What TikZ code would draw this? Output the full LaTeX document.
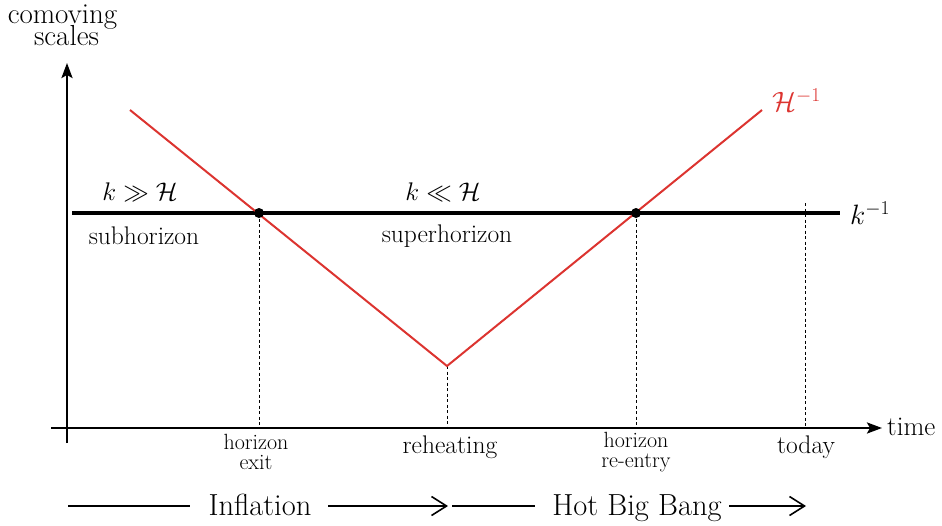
\RequirePackage{fix-cm}
\documentclass[tikz,border=0pt]{standalone}
\usepackage{amssymb}
\usepackage{fontspec}
\usetikzlibrary{arrows.meta}
\definecolor{myred}{RGB}{220,52,48}
\begin{document}
\begin{tikzpicture}[x=1pt,y=-1pt,
  axis/.style={line width=2.4pt,-{Stealth[length=15pt,width=11pt,inset=3pt]}},
  guide/.style={line width=0.9pt,dash pattern=on 3pt off 2.5pt},
  lbl/.style={font=\fontsize{25.5}{27}\selectfont,inner sep=0pt},
  toplbl/.style={font=\fontsize{29}{30}\selectfont,inner sep=0pt,anchor=base},
  mathlbl/.style={font=\fontsize{28}{30}\selectfont,inner sep=0pt},
  smalllbl/.style={font=\fontsize{22}{20}\selectfont,inner sep=0pt,align=center},
  biglbl/.style={font=\fontsize{30.5}{32}\selectfont,inner sep=0pt},
  era/.style={line width=1.6pt},
  eraarrow/.style={line width=1.6pt,-{Straight Barb[length=15pt,width=19pt,line width=1.6pt]}},
  dot/.style={circle,fill=black,inner sep=0pt,minimum size=10pt}]
\useasboundingbox (0,0) rectangle (942,525);
% coordinates
\coordinate (yb) at (67,443);
\coordinate (yt) at (67,63);
\coordinate (xl) at (51,428);
\coordinate (xr) at (882,428);
\coordinate (kl) at (72,213);
\coordinate (kr) at (840,213);
\coordinate (rs) at (130,110);
\coordinate (rm) at (447,366);
\coordinate (re) at (762,110);
\coordinate (ex) at (259,213);
\coordinate (en) at (636,213);
\coordinate (exb) at (259,428);
\coordinate (rmb) at (447,428);
\coordinate (enb) at (636,428);
\coordinate (tdt) at (805,203);
\coordinate (tdb) at (805,428);
% guides
\draw[guide] (ex) -- (exb);
\draw[guide] (rm) -- (rmb);
\draw[guide] (en) -- (enb);
\draw[guide] (tdt) -- (tdb);
% axes
\draw[axis] (yb) -- (yt);
\draw[axis] (xl) -- (xr);
% k^-1 line
\draw[line width=4pt] (kl) -- (kr);
% H^-1
\draw[myred,line width=2pt,line join=miter] (rs) -- (rm) -- (re);
\node[dot] (d1) at (ex) {};
\node[dot] (d2) at (en) {};
% labels
\node[lbl,anchor=west,font=\fontsize{27}{28}\selectfont] (time) at (887,427) {time};
\node[mathlbl,anchor=west] (kinv) at (850,213) {$k^{-1}$};
\node[mathlbl,anchor=west,text=myred] (hinv) at (772,100) {$\mathcal{H}^{-1}$};
\node[lbl] (kgg) at (140,192) {$k \gg \mathcal{H}$};
\node[lbl] (sub) at (144,236) {subhorizon};
\node[lbl] (kll) at (443,192) {$k \ll \mathcal{H}$};
\node[lbl] (sup) at (447,236) {superhorizon};
\node[smalllbl] (hex) at (256,452) {horizon\\exit};
\node[lbl,anchor=base] (reh) at (450,453) {reheating};
\node[smalllbl] (hre) at (636,452) {horizon\\re-entry};
\node[lbl,anchor=base] (tod) at (806,453) {today};
\node[toplbl] (cs1) at (62.5,23) {comoving};
\node[toplbl] (cs2) at (66.5,45) {scales};
% eras
\node[biglbl,anchor=base] (infl) at (260,515) {Inflation};
\node[biglbl,anchor=base] (hbb) at (637,515) {Hot Big Bang};
\coordinate (a1) at (68,506);
\coordinate (a2) at (190,506);
\coordinate (a3) at (328,506);
\coordinate (a4) at (448,506);
\coordinate (a5) at (452,506);
\coordinate (a6) at (535,506);
\coordinate (a7) at (729,506);
\coordinate (a8) at (806,506);
\draw[era] (a1) -- (a2);
\draw[eraarrow] (a3) -- (a4);
\draw[era] (a5) -- (a6);
\draw[eraarrow] (a7) -- (a8);
\end{tikzpicture}
\end{document}
